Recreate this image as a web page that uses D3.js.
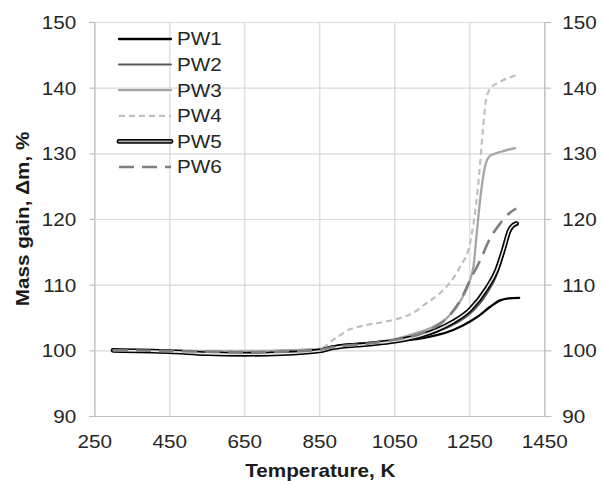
<!DOCTYPE html>
<html>
<head>
<meta charset="utf-8">
<script src="https://cdn.jsdelivr.net/npm/d3@7"></script>
<style>
  html, body { margin: 0; padding: 0; background: #fff; }
  svg { display: block; }
  text { font-family: "Liberation Sans", Arial, sans-serif; }
</style>
</head>
<body>
<svg id="chart" width="602" height="481"></svg>
<script>
// ---- Data ----
const seriesNames = ["PW1", "PW2", "PW3", "PW4", "PW5", "PW6"];

const tempPW1 = [300, 450, 550, 650, 750, 850, 887, 976, 1052, 1118, 1163, 1207, 1252, 1279, 1305, 1332, 1355, 1383];
const massPW1 = [100, 99.9, 99.8, 99.8, 99.9, 100.1, 100.6, 101.1, 101.5, 101.8, 102.3, 103.1, 104.4, 105.4, 106.6, 107.6, 107.9, 108.0];

const tempPW2 = [300, 450, 550, 650, 750, 850, 887, 976, 1052, 1118, 1163, 1207, 1252, 1296, 1323, 1341, 1357, 1368, 1376];
const massPW2 = [100, 99.9, 99.7, 99.6, 99.7, 100.0, 100.4, 100.9, 101.4, 102.0, 102.8, 103.9, 105.6, 108.6, 111.5, 114.7, 117.8, 118.8, 119.1];

const tempPW3 = [300, 450, 550, 650, 750, 850, 887, 976, 1052, 1118, 1154, 1190, 1225, 1252, 1261, 1270, 1279, 1292, 1305, 1332, 1372];
const massPW3 = [100, 100, 99.9, 99.9, 100, 100.2, 100.5, 101.1, 101.7, 102.8, 103.6, 104.9, 107.4, 110.7, 112.7, 117.9, 123.0, 128.0, 129.6, 130.2, 130.8];

const tempPW4 = [300, 450, 550, 650, 750, 850, 887, 932, 976, 1020, 1065, 1100, 1136, 1172, 1225, 1252, 1274, 1287, 1296, 1310, 1332, 1376];
const massPW4 = [100, 99.9, 99.8, 99.8, 99.9, 100.2, 101.6, 103.2, 103.85, 104.3, 104.9, 105.7, 107.2, 108.7, 112.7, 116.3, 125.4, 134.0, 138.6, 140.1, 140.9, 141.9];

const tempPW5 = [300, 450, 550, 650, 750, 850, 887, 976, 1052, 1118, 1163, 1207, 1252, 1296, 1323, 1341, 1357, 1368, 1376];
const massPW5 = [100, 99.8, 99.5, 99.4, 99.5, 99.9, 100.4, 100.9, 101.4, 102.2, 103.1, 104.35, 106.2, 109.4, 112.2, 115.3, 118.3, 119.1, 119.3];

const tempPW6 = [300, 450, 550, 650, 750, 850, 887, 976, 1052, 1118, 1154, 1190, 1225, 1252, 1279, 1305, 1332, 1355, 1375];
const massPW6 = [100, 99.9, 99.8, 99.7, 99.8, 100.1, 100.5, 101.0, 101.6, 102.5, 103.4, 104.9, 107.5, 110.7, 113.7, 117.0, 119.3, 120.8, 121.6];

const xTicks = [250, 450, 650, 850, 1050, 1250, 1450];
const yTicks = [90, 100, 110, 120, 130, 140, 150];

const xTitle = "Temperature, K";
const yTitle = "Mass gain, \u0394m, %";

// ---- Layout ----
const W = 602, H = 481;
const plot = { left: 94.3, right: 544.3, top: 22, bottom: 416 };
const SX = 1.15;          // horizontal glyph stretch seen in reference
const FS = 18;

const svg = d3.select("#chart");

const x = d3.scaleLinear().domain([250, 1450]).range([plot.left, plot.right]);
const y = d3.scaleLinear().domain([90, 150]).range([plot.bottom, plot.top]);

// grid
const grid = svg.append("g");
grid.append("g")
  .attr("transform", `translate(0,${plot.bottom})`)
  .call(d3.axisBottom(x).tickValues(xTicks).tickSize(-(plot.bottom - plot.top)).tickFormat(""))
  .call(g => g.select(".domain").remove())
  .call(g => g.selectAll("line").attr("stroke", "#d9d9d9").attr("stroke-width", 1.2));
grid.append("g")
  .attr("transform", `translate(${plot.left},0)`)
  .call(d3.axisLeft(y).tickValues(yTicks).tickSize(-(plot.right - plot.left)).tickFormat(""))
  .call(g => g.select(".domain").remove())
  .call(g => g.selectAll("line").attr("stroke", "#d9d9d9").attr("stroke-width", 1.2));

// axes
function styleText(sel, anchor, dx) {
  sel.selectAll("text")
    .attr("fill", "#262626")
    .attr("font-size", FS)
    .attr("text-anchor", anchor)
    .each(function() {
      const t = d3.select(this);
      const xv = +t.attr("x") || 0;
      t.attr("x", xv / SX + (dx || 0)).attr("transform", `scale(${SX},1)`);
    });
}

const axL = svg.append("g")
  .attr("transform", `translate(${plot.left},0)`)
  .call(d3.axisLeft(y).tickValues(yTicks).tickSize(5).tickPadding(13).tickFormat(d3.format("d")));
axL.select(".domain").attr("stroke", "#bfbfbf").attr("stroke-width", 1.2);
axL.selectAll("line").attr("stroke", "#bfbfbf").attr("stroke-width", 1.2);
axL.selectAll("text").attr("dy", "0.36em");
styleText(axL, "end");

const axR = svg.append("g")
  .attr("transform", `translate(${plot.right},0)`)
  .call(d3.axisRight(y).tickValues(yTicks).tickSize(7).tickPadding(11).tickFormat(d3.format("d")));
axR.select(".domain").attr("stroke", "#bfbfbf").attr("stroke-width", 1.2);
axR.selectAll("line").attr("stroke", "#bfbfbf").attr("stroke-width", 1.2);
axR.selectAll("text").attr("dy", "0.36em");
styleText(axR, "start");

const axB = svg.append("g")
  .attr("transform", `translate(0,${plot.bottom})`)
  .call(d3.axisBottom(x).tickValues(xTicks).tickSize(0).tickPadding(19).tickFormat(d3.format("d")));
axB.select(".domain").attr("stroke", "#bfbfbf").attr("stroke-width", 1.2);
styleText(axB, "middle");

// axis titles
svg.append("text")
  .attr("transform", `translate(${(plot.left + plot.right) / 2 + 1},477) scale(${SX},1)`)
  .attr("text-anchor", "middle")
  .attr("font-size", FS)
  .attr("font-weight", "bold")
  .attr("fill", "#1a1a1a")
  .text(xTitle);

svg.append("text")
  .attr("transform", `translate(28.5,${(plot.top + plot.bottom) / 2}) rotate(-90) scale(${SX},1)`)
  .attr("text-anchor", "middle")
  .attr("font-size", FS)
  .attr("font-weight", "bold")
  .attr("fill", "#1a1a1a")
  .text(yTitle);

// series
const seriesData = [
  d3.zip(tempPW1, massPW1),
  d3.zip(tempPW2, massPW2),
  d3.zip(tempPW3, massPW3),
  d3.zip(tempPW4, massPW4),
  d3.zip(tempPW5, massPW5),
  d3.zip(tempPW6, massPW6)
];

const styles = [
  [{ stroke: "#000000", width: 2.3, dash: null }],
  [{ stroke: "#595959", width: 2.0, dash: null }],
  [{ stroke: "#a6a6a6", width: 2.3, dash: null }],
  [{ stroke: "#bfbfbf", width: 2.2, dash: "6,4" }],
  [{ stroke: "#000000", width: 4.8, dash: null }, { stroke: "#e8e8e8", width: 1.6, dash: null, legendStroke: "#a6a6a6" }],
  [{ stroke: "#7f7f7f", width: 2.6, dash: "15,8" }]
];

const line = d3.line()
  .x(d => x(d[0]))
  .y(d => y(d[1]))
  .curve(d3.curveMonotoneX);

const linesG = svg.append("g");
seriesData.forEach((data, i) => {
  styles[i].forEach(s => {
    linesG.append("path")
      .datum(data)
      .attr("d", line)
      .attr("fill", "none")
      .attr("stroke", s.stroke)
      .attr("stroke-width", s.width)
      .attr("stroke-dasharray", s.dash)
      .attr("stroke-linejoin", "round")
      .attr("stroke-linecap", s.dash ? "butt" : "round");
  });
});

// legend
const legend = svg.append("g");
const legY = d3.scaleLinear().domain([0, 5]).range([39, 167]);
seriesNames.forEach((name, i) => {
  const yy = legY(i);
  styles[i].forEach(s => {
    legend.append("line")
      .attr("x1", 119).attr("x2", 171)
      .attr("y1", yy).attr("y2", yy)
      .attr("stroke", s.legendStroke || s.stroke)
      .attr("stroke-width", s.width)
      .attr("stroke-dasharray", s.dash)
      .attr("stroke-linecap", s.dash ? "butt" : "round");
  });
  legend.append("text")
    .attr("transform", `translate(177,${yy}) scale(${SX},1)`)
    .attr("dy", "0.36em")
    .attr("font-size", FS)
    .attr("fill", "#262626")
    .text(name);
});
</script>
</body>
</html>
